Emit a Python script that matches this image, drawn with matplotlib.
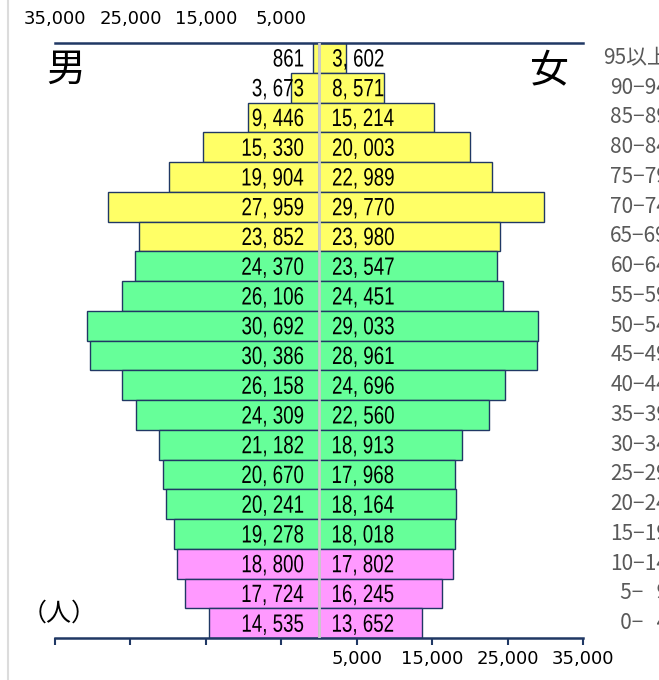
import matplotlib.pyplot as plt
from matplotlib.font_manager import FontProperties
from matplotlib.lines import Line2D
from matplotlib.patches import PathPatch
from matplotlib.textpath import TextPath
from matplotlib.transforms import Affine2D, ScaledTranslation, blended_transform_factory
import numpy as np

# 年齢階級（上から順）
ages = ["95以上", "90−94", "85−89", "80−84", "75−79", "70−74", "65−69",
        "60−64", "55−59", "50−54", "45−49", "40−44", "35−39", "30−34",
        "25−29", "20−24", "15−19", "10−14", "\u20075−\u20079", "\u20070−\u20074"]
male = [861, 3673, 9446, 15330, 19904, 27959, 23852, 24370, 26106, 30692,
        30386, 26158, 24309, 21182, 20670, 20241, 19278, 18800, 17724, 14535]
female = [3602, 8571, 15214, 20003, 22989, 29770, 23980, 23547, 24451, 29033,
          28961, 24696, 22560, 18913, 17968, 18164, 18018, 17802, 16245, 13652]
# 年齢区分ごとの色 (65歳以上 / 15-64歳 / 0-14歳)
groups = ["old"] * 7 + ["work"] * 10 + ["young"] * 3
group_colors = {"old": "#ffff66", "work": "#66ff99", "young": "#ff99ff"}

ticks = [-35000, -25000, -15000, -5000, 5000, 15000, 25000, 35000]
tick_labels = ["35,000", "25,000", "15,000", "5,000"]

NAVY = "#203864"
DPI = 100
jp = ["Noto Sans CJK JP", "DejaVu Sans"]

# 人数ラベルは長体（横方向に圧縮）で描く
label_font = FontProperties(family="Liberation Sans")
LABEL_PX = 25
SX = 0.75
_zero = TextPath((0, 0), "0", size=LABEL_PX, prop=label_font).get_extents()
DIGIT_MID = (_zero.y0 + _zero.y1) / 2


def narrow_text(ax, x, y, s, ha):
    path = TextPath((0, 0), s, size=LABEL_PX, prop=label_font)
    ext = path.get_extents()
    dx = -ext.x1 * SX if ha == "right" else -ext.x0 * SX
    tr = (Affine2D().scale(SX, 1).translate(dx, -DIGIT_MID)
          + ScaledTranslation(x, y, ax.transData))
    ax.add_patch(PathPatch(path, transform=tr, facecolor="black", lw=0, zorder=4))


W, H = 659, 680
fig = plt.figure(figsize=(W / DPI, H / DPI), dpi=DPI)
ax = fig.add_axes([55 / W, 1 - 638 / H, 528 / W, 595 / H])

n = len(ages)
y = np.arange(n)[::-1]
colors = [group_colors[g] for g in groups]

ax.set_xlim(-35000, 35000)
ax.set_ylim(-0.5, n - 0.5)

ax.barh(y, [-m for m in male], height=1.0, color=colors, edgecolor=NAVY, lw=1, zorder=2)
ax.barh(y, female, height=1.0, color=colors, edgecolor=NAVY, lw=1, zorder=2)
ax.axvline(0, color="#cccccc", lw=2, zorder=3)

for yi, m, f in zip(y, male, female):
    narrow_text(ax, -2100, yi, f"{m:,}".replace(",", ", "), "right")
    narrow_text(ax, 1850, yi, f"{f:,}".replace(",", ", "), "left")

ax.set_yticks([])
for side in ["left", "right"]:
    ax.spines[side].set_visible(False)
for side in ["top", "bottom"]:
    ax.spines[side].set_color(NAVY)
    ax.spines[side].set_linewidth(1.8)

ax.set_xticks(ticks)
ax.set_xticklabels([""] * 4 + tick_labels[::-1])
ax.tick_params(axis="x", direction="out", length=5, width=1.5, color=NAVY,
               pad=4, labelsize=13)

top = ax.secondary_xaxis("top")
top.set_xticks(ticks[:4])
top.set_xticklabels(tick_labels)
top.tick_params(length=0, pad=11, labelsize=13)
top.spines["top"].set_visible(False)

# 年齢階級ラベル（右端は図の外まではみ出す）
tr = blended_transform_factory(fig.transFigure, ax.transData)
for yi, a in zip(y, ages):
    ax.text(668 / W, yi, a, ha="right", va="center", fontsize=15,
            family=jp, color="#595959", transform=tr, clip_on=False)

fig.text(66 / W, 1 - 70 / H, "男", ha="center", va="center", fontsize=28, family=jp)
fig.text(549 / W, 1 - 70 / H, "女", ha="center", va="center", fontsize=28, family=jp)
fig.text(59 / W, 1 - 614 / H, "（人）", ha="center", va="center", fontsize=18, family=jp)

fig.add_artist(Line2D([8 / W, 8 / W], [0, 1], color="#dcdcdc", lw=1.5,
                      transform=fig.transFigure))

fig.savefig("out.png", dpi=DPI)
